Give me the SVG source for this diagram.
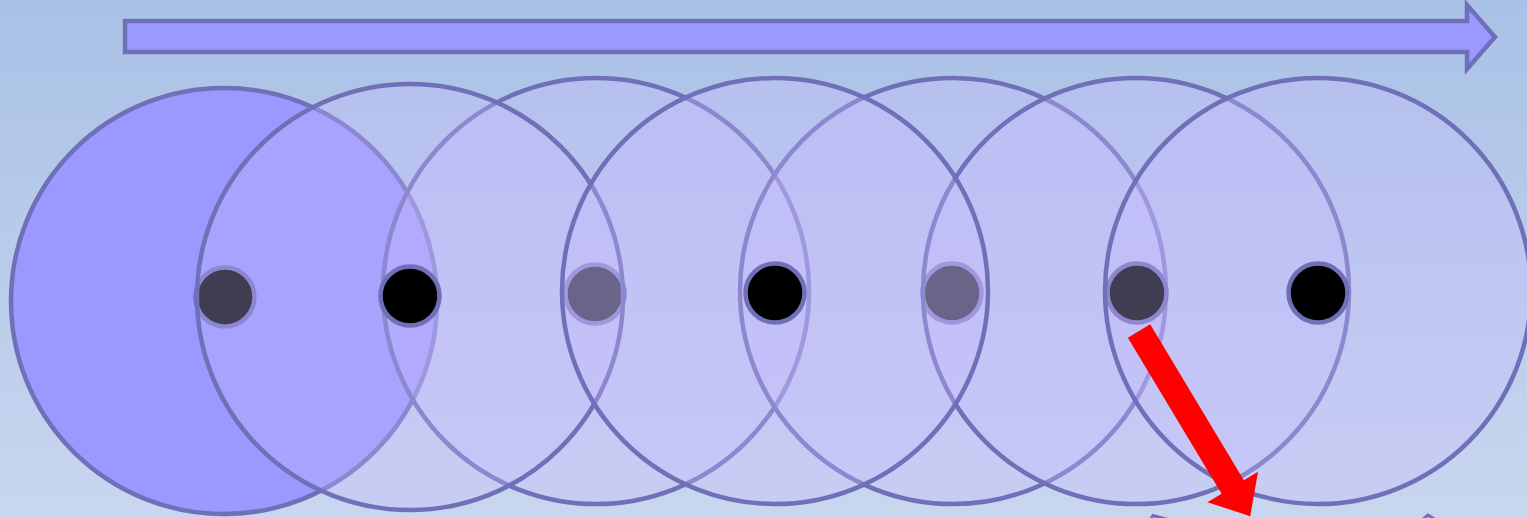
<svg xmlns="http://www.w3.org/2000/svg" width="1527" height="518" viewBox="0 0 1527 518">
  <defs>
    <linearGradient id="bg" x1="0" y1="0" x2="0" y2="1">
      <stop offset="0" stop-color="#a9c1e6"/>
      <stop offset="1" stop-color="#c9d6ef"/>
    </linearGradient>
    <style>
      .ring { stroke: #7070b8; stroke-width: 4.5; }
      .first { fill: #9999ff; }
      .over { fill: #c8baff; fill-opacity: 0.32; }
      .dot { fill: #000000; stroke: #7070b8; stroke-width: 4.5; }
      .mark { fill: none; stroke: #7070b8; stroke-width: 3; }
    </style>
  </defs>
  <rect x="0" y="0" width="1527" height="518" fill="url(#bg)"/>

  <g id="node1">
    <circle class="ring first" cx="224" cy="301" r="213"/>
    <circle class="dot" cx="225" cy="297" r="29.5"/>
  </g>
  <g id="node3">
    <circle class="ring over" cx="596" cy="291" r="213"/>
    <circle class="dot" cx="595" cy="294" r="29.5"/>
  </g>
  <g id="node5">
    <circle class="ring over" cx="953" cy="291" r="213"/>
    <circle class="dot" cx="952" cy="293" r="29.5"/>
  </g>
  <g id="node6">
    <circle class="ring over" cx="1136" cy="291" r="213"/>
    <circle class="dot" cx="1137" cy="293" r="29.5"/>
  </g>
  <g id="node2">
    <circle class="ring over" cx="410" cy="297" r="213"/>
    <circle class="dot" cx="410" cy="296" r="29.5"/>
  </g>
  <g id="node4">
    <circle class="ring over" cx="775" cy="291" r="213"/>
    <circle class="dot" cx="775" cy="293" r="29.5"/>
  </g>
  <g id="node7">
    <circle class="ring over" cx="1318" cy="291" r="213"/>
    <circle class="dot" cx="1318" cy="293" r="29.5"/>
  </g>

  <g id="connectors">
    <polygon points="125,21 1467,21 1467,5 1495,37 1467,69 1467,52 125,52" fill="#9999ff" stroke="#7070b8" stroke-width="4.5" stroke-linejoin="miter"/>
    <polygon transform="translate(1139,331) rotate(59)" points="0,-13 182,-13 182,-29.5 216,0 182,29.5 182,13 0,13" fill="#ff0000"/>
    <polyline class="mark" points="1150,520 1153,515.5 1168,519.5"/>
    <polyline class="mark" points="1422,520 1428,515 1436,520"/>
  </g>
</svg>
